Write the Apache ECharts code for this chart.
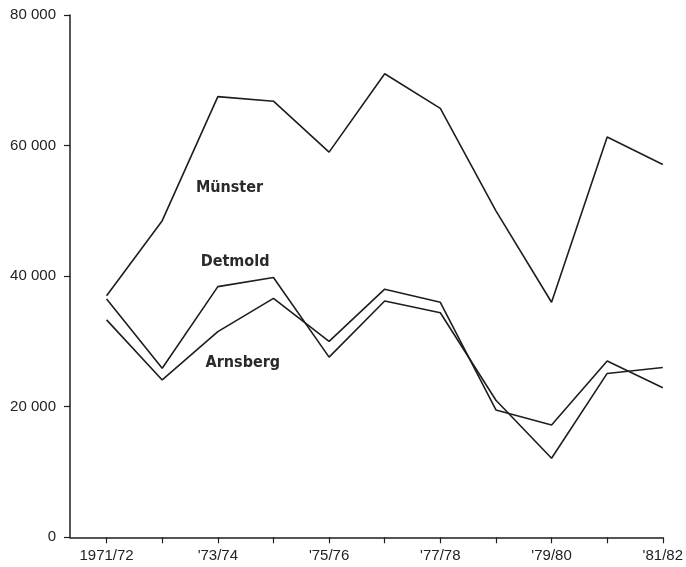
<!DOCTYPE html>
<html>
<head>
<meta charset="utf-8">
<script src="https://cdn.jsdelivr.net/npm/echarts@6/dist/echarts.min.js"></script>
<style>html,body{margin:0;padding:0;background:#fff}#c{width:686px;height:567px}</style>
</head>
<body>
<div id="c"></div>
<script>
const categories = ['1971/72','1972/73','1973/74','1974/75','1975/76','1976/77','1977/78','1978/79','1979/80','1980/81','1981/82'];
const tickLabels = ['1971/72','','\'73/74','','\'75/76','','\'77/78','','\'79/80','','\'81/82'];
const muenster = [37000, 48500, 67500, 66800, 59000, 71000, 65700, 50000, 36000, 61300, 57100];
const detmold  = [36500, 25900, 38400, 39800, 27600, 36200, 34400, 21000, 12100, 25100, 26000];
const arnsberg = [33300, 24100, 31500, 36600, 30000, 38000, 36000, 19500, 17200, 27000, 22900];
const seriesNames = ['Münster', 'Detmold', 'Arnsberg'];
const labelAnchors = [[2.21, 53580], [2.31, 42150], [2.45, 26760]];

const chart = echarts.init(document.getElementById('c'), null, {renderer: 'canvas'});
const seriesData = [muenster, detmold, arnsberg];
const ink = '#1e1e1e';

const series = seriesData.map((vals, i) => ({
  name: seriesNames[i],
  type: 'line',
  data: vals.map((v, k) => [k, v]),
  symbol: 'none',
  lineStyle: {color: ink, width: 1.6},
  silent: true,
  markPoint: {
    symbol: 'circle',
    symbolSize: 0,
    data: [{coord: labelAnchors[i], value: seriesNames[i]}],
    label: {
      show: true, position: 'inside', formatter: seriesNames[i],
      fontFamily: 'DejaVu Sans Condensed', fontSize: 16, color: '#2a2a2a', fontWeight: 'bold'
    }
  }
}));

const option = {
  animation: false,
  backgroundColor: '#fff',
  grid: {left: 70, right: 21.7, top: 15, bottom: 29.7, containLabel: false},
  xAxis: {
    type: 'value',
    min: -0.658, max: categories.length - 1,
    splitLine: {show: false},
    axisLine: {show: true, onZero: false, lineStyle: {color: ink, width: 1.5}},
    axisTick: {show: true, length: 6, lineStyle: {color: ink, width: 1.2},
      customValues: categories.map((c, k) => k)},
    axisLabel: {
      customValues: categories.map((c, k) => k).filter(k => tickLabels[k] !== ''),
      formatter: v => tickLabels[Math.round(v)] || '',
      fontFamily: 'Liberation Sans', fontSize: 15, color: '#222', margin: 11
    }
  },
  yAxis: {
    type: 'value', min: 0, max: 80000, interval: 20000,
    splitLine: {show: false},
    axisLine: {show: true, onZero: false, lineStyle: {color: ink, width: 1.5}},
    axisTick: {show: true, length: 6, lineStyle: {color: ink, width: 1.2}},
    axisLabel: {
      formatter: v => v === 0 ? '0' : String(v / 1000) + ' 000',
      fontFamily: 'Liberation Sans', fontSize: 15, color: '#222', margin: 14
    }
  },
  series: series
};
chart.setOption(option);
</script>
</body>
</html>
